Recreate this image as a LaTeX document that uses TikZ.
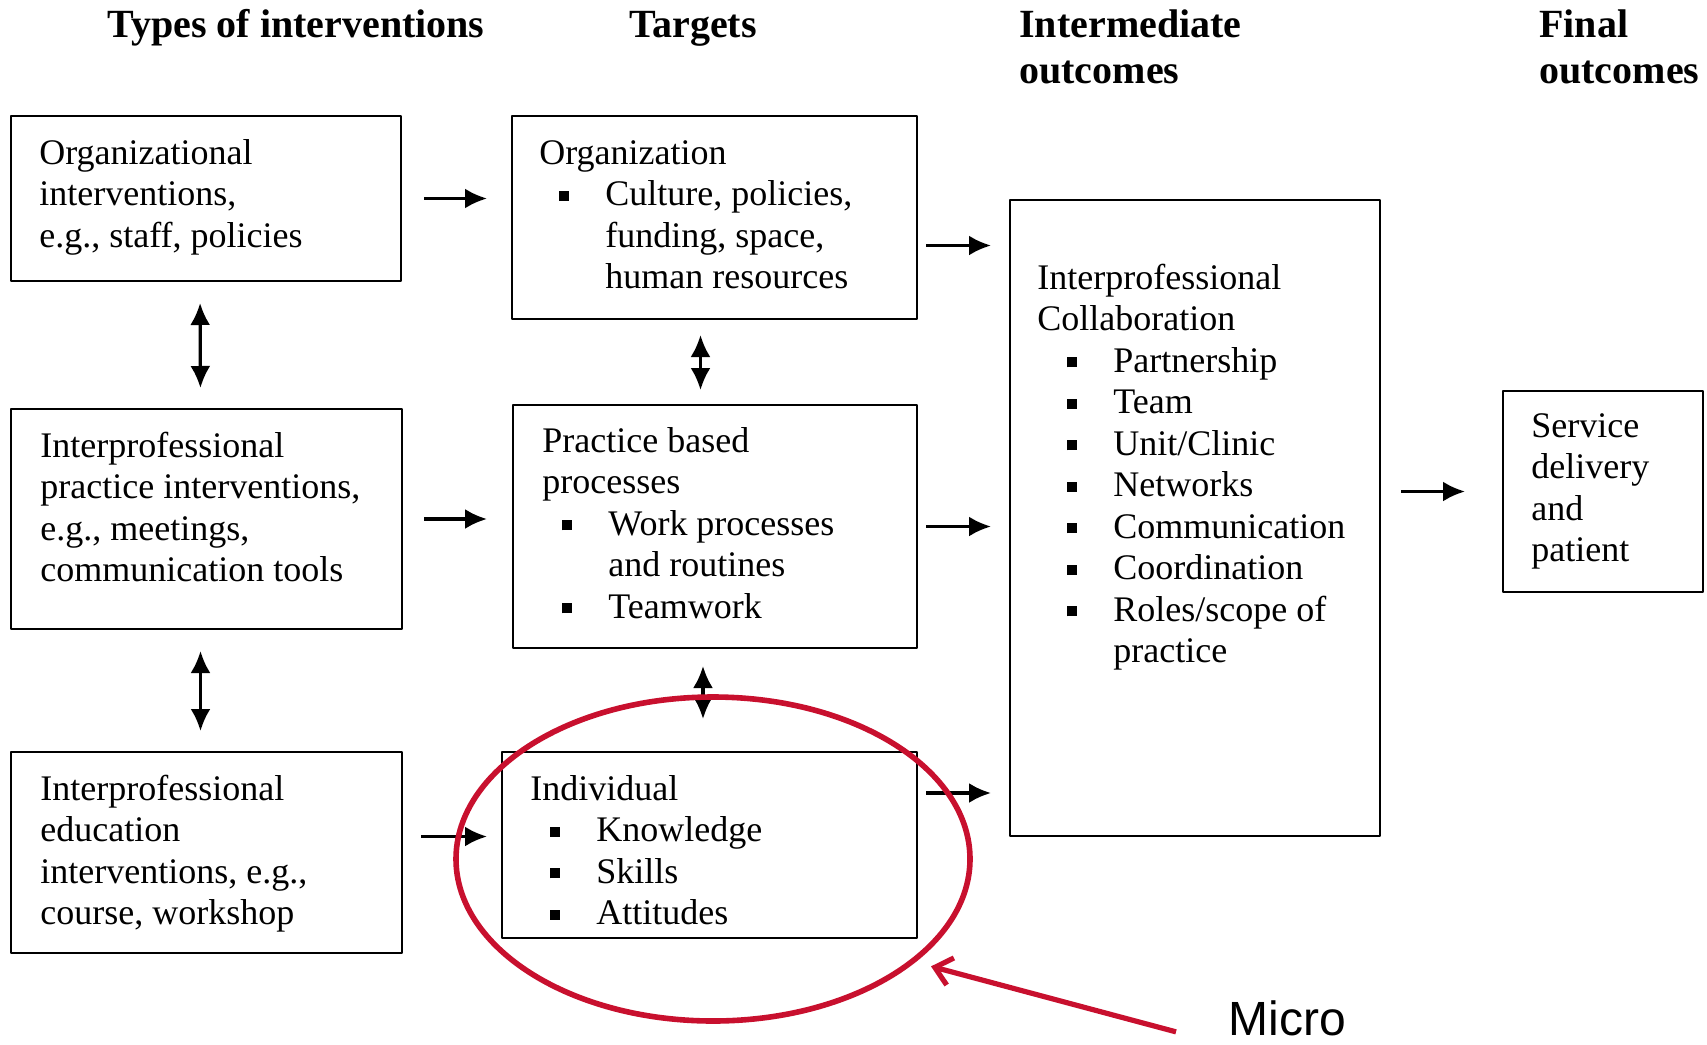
\documentclass[tikz,border=0pt]{standalone}
\usepackage{fontspec}
\setmainfont{Liberation Serif}
\newfontfamily\microfont{Liberation Sans}
\usetikzlibrary{arrows.meta,shapes.geometric,positioning}
\definecolor{ringred}{RGB}{200,16,46}
\newcommand{\sqbul}{\raisebox{2.5pt}{\rule{5pt}{5pt}}}
\newcommand{\bul}[1][10pt]{\hspace*{#1}\makebox[23pt][l]{\sqbul}}
\newcommand{\cont}[1][10pt]{\hspace*{#1}\hspace*{23pt}}
\newcommand{\bodyfont}{\fontsize{18pt}{20.75pt}\selectfont}
\newcommand{\headfont}{\fontsize{20pt}{23pt}\selectfont\bfseries}
\begin{document}
\begin{tikzpicture}[x=0.5pt, y=-0.5pt, line join=round,
	box/.style={draw, line width=1.3pt, inner sep=0pt, outer sep=0pt, anchor=north west},
	txt/.style={anchor=north west, inner sep=0pt, align=left, font=\bodyfont},
	head/.style={inner sep=0pt, align=left, font=\headfont},
	arr/.style={-{Latex[length=11pt,width=10pt]}, line width=1.6pt},
	darr/.style={{Latex[length=11pt,width=10pt]}-{Latex[length=11pt,width=10pt]}, line width=1.6pt}]
	\useasboundingbox (0,0) rectangle (1707,1044);
	% column heads
	\node[head, anchor=base] (h-types) at (296,37) {Types of interventions};
	\node[head, anchor=base] (h-targets) at (693,37) {Targets};
	\node[head, anchor=north west] (h-inter) at (1019,5) {\strut Intermediate\\outcomes};
	\node[head, anchor=north west] (h-final) at (1539,5) {\strut Final\\outcomes};
	% types of interventions
	\node[box, minimum width=195pt, minimum height=82.5pt] (orgint) at (11,116) {};
	\node[box, minimum width=195.5pt, minimum height=110pt] (ipint) at (11,409) {};
	\node[box, minimum width=195.5pt, minimum height=100.5pt] (eduint) at (11,752) {};
	\node[txt] (orgint-t) at ([shift={(28,19)}]orgint.north west) {\strut Organizational\\interventions,\\e.g., staff, policies};
	\node[txt] (ipint-t) at ([shift={(29,19)}]ipint.north west) {\strut Interprofessional\\practice interventions,\\e.g., meetings,\\communication tools};
	\node[txt] (eduint-t) at ([shift={(29,19)}]eduint.north west) {\strut Interprofessional\\education\\interventions, e.g.,\\course, workshop};
	% targets
	\node[box, minimum width=202.5pt, minimum height=101.5pt] (orgtar) at (512,116) {};
	\node[box, minimum width=202pt, minimum height=121.5pt] (practar) at (513,405) {};
	\node[box, minimum width=207.5pt, minimum height=93pt] (indtar) at (502,752) {};
	\node[txt] (orgtar-t) at ([shift={(27,19)}]orgtar.north west) {\strut Organization\\\bul Culture, policies,\\\cont funding, space,\\\cont human resources};
	\node[txt] (practar-t) at ([shift={(29,18)}]practar.north west) {\strut Practice based\\processes\\\bul Work processes\\\cont and routines\\\bul Teamwork};
	\node[txt] (indtar-t) at ([shift={(28,19)}]indtar.north west) {\strut Individual\\\bul Knowledge\\\bul Skills\\\bul Attitudes};
	% outcomes
	\node[box, minimum width=185pt, minimum height=318pt] (ipc) at (1010,200) {};
	\node[txt] (ipc-t) at ([shift={(27,60)}]ipc.north west) {\strut Interprofessional\\Collaboration\\\bul[15pt]Partnership\\\bul[15pt]Team\\\bul[15pt]Unit/Clinic\\\bul[15pt]Networks\\\bul[15pt]Communication\\\bul[15pt]Coordination\\\bul[15pt]Roles/scope of\\\cont[15pt]practice};
	\node[box, minimum width=100pt, minimum height=100.5pt] (service) at (1503,391) {};
	\node[txt] (service-t) at ([shift={(28,17)}]service.north west) {\strut Service\\delivery\\and\\patient};
	% arrows
	\foreach \a/\b in {orgint/ipint, ipint/eduint}
		\draw[darr, shorten <=11pt, shorten >=10.5pt] ([xshift=-3pt]\a.south) -- ([xshift=-3pt]\b.north);
	\draw[darr, shorten <=8pt, shorten >=7.5pt] ([xshift=-7pt]orgtar.south) -- ([xshift=-7pt]orgtar.south |- practar.north);
	\draw[darr, shorten <=9pt, shorten >=16.5pt] ([xshift=-6pt]practar.south) -- ([xshift=-6pt]practar.south |- indtar.north);
	\draw[arr, shorten <=11.5pt, shorten >=12.5pt] (orgint.east) -- (orgint.east -| orgtar.west);
	\draw[arr, shorten <=11pt, shorten >=13pt] (ipint.east) -- (ipint.east -| practar.west);
	\draw[arr, shorten <=9.5pt, shorten >=7.5pt] ([yshift=8pt]eduint.east) -- ([yshift=8pt]eduint.east -| indtar.west);
	\foreach \n/\s in {orgtar/-14pt, practar/0pt, indtar/26pt}
		\draw[arr, shorten <=4.5pt, shorten >=9.5pt] ([yshift=\s]\n.east) -- ([yshift=\s]\n.east -| ipc.west);
	\draw[arr, shorten <=10.5pt, shorten >=19pt] (ipc.east |- service.west) -- (service.west);
	% micro level
	\node[ellipse, draw=ringred, line width=2.8pt, minimum width=257pt, minimum height=162pt, inner sep=0pt] (micro-ring) at (713,859) {};
	\node[font=\microfont\fontsize{24pt}{28pt}\selectfont, inner sep=0pt, anchor=base west] (micro) at (1228,1035) {Micro};
	\draw[ringred, line width=2.6pt, -{Straight Barb[length=8pt,width=14pt]}, shorten >=8pt] ([shift={(-52,14)}]micro.west) -- (micro-ring.-27);
\end{tikzpicture}
\end{document}
